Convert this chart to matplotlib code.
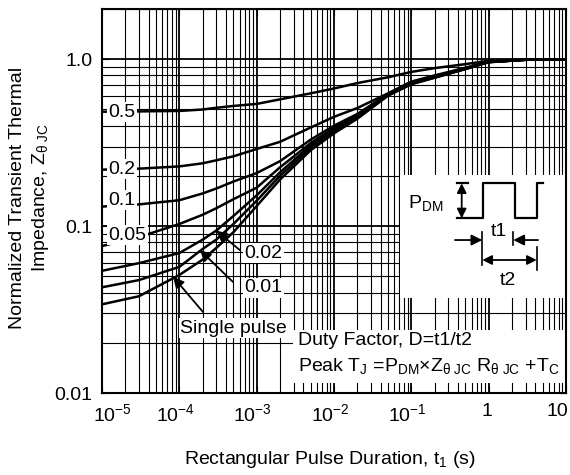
import numpy as np
import matplotlib
matplotlib.use("Agg")
import matplotlib.pyplot as plt
import matplotlib.transforms as mtransforms
from matplotlib.patches import Rectangle
from matplotlib.ticker import LogLocator, NullFormatter

plt.rcParams['font.family'] = ['Liberation Sans', 'DejaVu Sans']
plt.rcParams['mathtext.fontset'] = 'custom'
plt.rcParams['mathtext.rm'] = 'Liberation Sans'
plt.rcParams['mathtext.it'] = 'Liberation Sans:italic'
plt.rcParams['mathtext.bf'] = 'Liberation Sans:bold'

t1 = [1e-5, 3e-5, 1e-4, 2e-4, 3e-4, 5e-4, 1e-3, 2e-3, 5e-3, 1e-2, 2e-2, 5e-2,
      1e-1, 2e-1, 5e-1, 1, 3, 10]

# normalized Zth for each duty factor
z_d05 = [.485, .487, .49, .50, .512, .525, .54, .575, .625, .668, .72, .78,
         .84, .885, .935, .98, .995, 1.0]
z_d02 = [.218, .221, .228, .238, .248, .262, .29, .32, .39, .452, .51, .625,
         .735, .80, .89, .965, .993, 1.0]
z_d01 = [.131, .135, .143, .157, .168, .185, .208, .245, .33, .40, .47, .62,
         .725, .79, .885, .965, .993, 1.0]
z_d005 = [.076, .086, .103, .117, .128, .145, .170, .225, .315, .388, .462, .617,
          .72, .785, .88, .963, .993, 1.0]
z_d002 = [.054, .060, .069, .083, .094, .115, .153, .21, .305, .378, .455, .613,
          .715, .78, .877, .962, .993, 1.0]
z_d001 = [.043, .0475, .057, .073, .083, .103, .142, .20, .295, .37, .448, .61,
          .712, .777, .875, .961, .993, 1.0]
z_single = [.034, .038, .051, .063, .074, .092, .132, .19, .285, .36, .44, .605,
            .708, .775, .873, .96, .993, 1.0]

curves = [z_d05, z_d02, z_d01, z_d005, z_d002, z_d001, z_single]

x_ticks = [1e-5, 1e-4, 1e-3, 1e-2, 1e-1, 1, 10]
x_ticklabels = [r'$\mathregular{10^{-5}}$', r'$\mathregular{10^{-4}}$',
                r'$\mathregular{10^{-3}}$', r'$\mathregular{10^{-2}}$',
                r'$\mathregular{10^{-1}}$', '1', '10']
y_ticks = [0.01, 0.1, 1.0]
y_ticklabels = ['0.01', '0.1', '1.0']

fig = plt.figure(figsize=(5.7, 4.75), dpi=100)
ax = fig.add_axes([0.179, 0.1726, 0.814, 0.8084])
ax.set_xscale('log')
ax.set_yscale('log')
ax.set_xlim(1e-5, 10)
ax.set_ylim(0.01, 2.0)
ax.set_axisbelow(True)

ax.xaxis.set_minor_locator(LogLocator(base=10, subs=np.arange(2, 10)))
ax.yaxis.set_minor_locator(LogLocator(base=10, subs=np.arange(2, 10)))
ax.xaxis.set_minor_formatter(NullFormatter())
ax.yaxis.set_minor_formatter(NullFormatter())
ax.set_xticks(x_ticks)
ax.set_xticklabels(x_ticklabels)
ax.set_yticks(y_ticks)
ax.set_yticklabels(y_ticklabels)
ax.tick_params(which='both', direction='in', top=True, right=True, labelsize=14)
ax.tick_params(which='major', length=5, pad=7)
ax.tick_params(which='minor', length=3)

# nudge the x tick labels a little, like the original sheet
shifts = [10, -4, -4, -4, -4, -2, -9]
for lab, dx in zip(ax.get_xticklabels(), shifts):
    off = mtransforms.ScaledTranslation(dx / 100, 0, fig.dpi_scale_trans)
    lab.set_transform(lab.get_transform() + off)

ax.grid(True, which='major', color='black', linewidth=1.3)
ax.grid(True, which='minor', color='black', linewidth=0.8)
for s in ax.spines.values():
    s.set_linewidth(1.5)

for z in curves:
    ax.plot(t1, z, color='black', linewidth=1.8, zorder=2)

# white panels behind the explanation texts
ax.add_patch(Rectangle((0.642, 0.247), 0.358, 0.321, transform=ax.transAxes,
                       facecolor='white', edgecolor='none', zorder=1))
ax.add_patch(Rectangle((0.4116, 0.026), 0.5884, 0.138, transform=ax.transAxes,
                       facecolor='white', edgecolor='none', zorder=1))

box = dict(facecolor='white', edgecolor='none', pad=1.0)
for lab, y in [('0.5', 0.482), ('0.2', 0.219), ('0.1', 0.143), ('0.05', 0.0883)]:
    ax.text(1.2e-5, y, lab, fontsize=14, ha='left', va='center', bbox=box, zorder=3)

ax.text(6.9e-4, 0.0689, '0.02', fontsize=14, ha='left', va='center', bbox=box, zorder=3)
ax.text(6.9e-4, 0.0426, '0.01', fontsize=14, ha='left', va='center', bbox=box, zorder=3)
ax.text(1.02e-4, 0.0245, 'Single pulse', fontsize=14, ha='left', va='center',
        bbox=box, zorder=3)

arrow = dict(arrowstyle='-|>', color='black', lw=1.3, mutation_scale=16,
             shrinkA=0, shrinkB=0)
ax.annotate('', xy=(3.0e-4, 0.094), xytext=(6.07e-4, 0.0718), arrowprops=arrow, zorder=4)
ax.annotate('', xy=(1.85e-4, 0.0718), xytext=(4.93e-4, 0.0463), arrowprops=arrow, zorder=4)
ax.annotate('', xy=(8.3e-5, 0.0497), xytext=(2.02e-4, 0.0306), arrowprops=arrow, zorder=4)

# pulse sketch
T = ax.transAxes
ax.text(0.698, 0.495, r'P$_{\rm DM}$', transform=T, fontsize=14, ha='center', va='center')
ax.plot([0.7645, 0.8218, 0.8218, 0.8901, 0.8901, 0.9369, 0.9369, 0.9511],
        [0.4549, 0.4549, 0.5461, 0.5461, 0.4549, 0.4549, 0.5461, 0.5461],
        transform=T, color='black', lw=1.6, zorder=4)
ax.plot([0.7645, 0.7894], [0.5461, 0.5461], transform=T, color='black', lw=1.6, zorder=4)
dbl = dict(arrowstyle='<|-|>', color='black', lw=1.3, mutation_scale=14,
           shrinkA=0, shrinkB=0)
ax.annotate('', xy=(0.7752, 0.5461), xytext=(0.7752, 0.4549), xycoords=T,
            textcoords=T, arrowprops=dbl, zorder=4)
ax.plot([0.8196, 0.8196], [0.420, 0.333], transform=T, color='black', lw=1.2, zorder=4)
ax.plot([0.8864, 0.8864], [0.420, 0.385], transform=T, color='black', lw=1.2, zorder=4)
ax.plot([0.9369, 0.9369], [0.381, 0.320], transform=T, color='black', lw=1.2, zorder=4)
ax.annotate('', xy=(0.8196, 0.3984), xytext=(0.7608, 0.3984), xycoords=T,
            textcoords=T, arrowprops=arrow, zorder=4)
ax.annotate('', xy=(0.8864, 0.3984), xytext=(0.9397, 0.3984), xycoords=T,
            textcoords=T, arrowprops=arrow, zorder=4)
ax.annotate('', xy=(0.9369, 0.3464), xytext=(0.8196, 0.3464), xycoords=T,
            textcoords=T, arrowprops=dbl, zorder=4)
ax.text(0.8556, 0.42, 't1', transform=T, fontsize=14, ha='center', va='center')
ax.text(0.875, 0.294, 't2', transform=T, fontsize=14, ha='center', va='center')

ax.text(0.4224, 0.138, 'Duty Factor, D=t1/t2', transform=T, fontsize=14,
        ha='left', va='center', zorder=4)
ax.text(0.4224, 0.071,
        r'Peak T$_{\rm J}$ =P$_{\rm DM}$×Z$_{\rm θ\ JC}$ R$_{\rm θ\ JC}$ +T$_{\rm C}$',
        transform=T, fontsize=14, ha='left', va='center', zorder=4)

fig.text(330 / 570, 1 - 460 / 475, r'Rectangular Pulse Duration, t$_{\rm 1}$ (s)',
         fontsize=14, ha='center', va='center')
fig.text(30 / 570, 1 - 198 / 475,
         'Normalized Transient Thermal\n' + r'Impedance, Z$_{\rm θ\ JC}$',
         fontsize=14, ha='center', va='center', rotation=90, linespacing=1.25)

fig.savefig('out.png', dpi=100)
